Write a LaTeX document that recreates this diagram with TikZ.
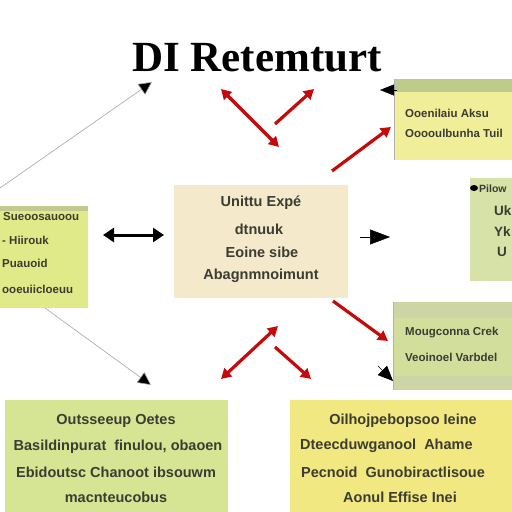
\documentclass[tikz,border=0pt]{standalone}
\usepackage{fontspec}
\setmainfont{Liberation Sans}
\newfontfamily\titlefont{Liberation Serif}
\usetikzlibrary{arrows.meta}
\definecolor{txtgray}{HTML}{3C3C32}
\definecolor{redarr}{HTML}{C40A0A}
\definecolor{yelbox}{HTML}{F1EE9A}
\definecolor{ygbox}{HTML}{E0EA88}
\definecolor{beigebox}{HTML}{F4E9CB}
\definecolor{greenbox}{HTML}{D6E2A8}
\definecolor{gbox}{HTML}{D2DE9C}
\definecolor{bottomgreen}{HTML}{D6E594}
\definecolor{bottomyel}{HTML}{F1E882}
\definecolor{strip}{HTML}{BFCB8C}
\tikzset{
  boxtext/.style={text=txtgray, font=\fontsize{13.5}{15}\selectfont\bfseries, inner sep=0pt},
  bigtext/.style={boxtext, font=\fontsize{14.5}{16}\selectfont\bfseries},
  smalltext/.style={boxtext, font=\fontsize{11.5}{13}\selectfont\bfseries},
  redline/.style={draw=redarr, line width=3.2pt, -{Triangle[length=10pt,width=11pt]}},
  reddouble/.style={draw=redarr, line width=3.2pt, {Triangle[length=10pt,width=11pt]}-{Triangle[length=10pt,width=11pt]}},
  grayline/.style={draw=gray!70, line width=0.6pt, -{Triangle[length=13pt,width=13pt,fill=black]}},
  blacktip/.style={draw=black, line width=0.5pt},
}
\begin{document}
\begin{tikzpicture}[x=1pt,y=-1pt]
\useasboundingbox[fill=white] (0,0) rectangle (512,512);

% title
\node[font=\titlefont\bfseries\fontsize{43}{45}\selectfont, inner sep=0pt] (title) at (257,58) {DI Retemturt};

% top-right box
\fill[yelbox] (394,79) rectangle (512,160);
\fill[strip] (394,79) rectangle (512,92);
\draw[gray!60, line width=0.8pt] (394,79) -- (394,160);
\node[smalltext, anchor=west] (tr1) at (405,113) {Ooenilaiu Aksu};
\node[smalltext, anchor=west] (tr2) at (405,133) {Ooooulbunha Tuil};

% left box
\fill[ygbox] (0,207) rectangle (88,308);
\fill[strip] (0,206) rectangle (88,211);
\node[smalltext, anchor=west] (l1) at (3,217) {Sueoosauoou};
\node[smalltext, anchor=west] (l2) at (2,240) {- Hiirouk};
\node[smalltext, anchor=west] (l3) at (2,263) {Puauoid};
\node[smalltext, anchor=west] (l4) at (2,289) {ooeuiicloeuu};

% center box
\fill[beigebox] (174,185) rectangle (348,298);
\node[bigtext] (c1) at (261,203) {Unittu Expé};
\node[bigtext] (c2) at (259,229) {dtnuuk};
\node[bigtext] (c3) at (262,252) {Eoine sibe};
\node[bigtext] (c4) at (261,276) {Abagnmnoimunt};

% right box
\fill[greenbox] (470,178) rectangle (512,281);
\fill[black] (474,188) ellipse (4 and 3);
\node[boxtext, font=\fontsize{10.5}{12}\selectfont\bfseries, anchor=west] (r1) at (479,189) {Pilow};
\node[boxtext, anchor=west] (r2) at (494,211) {Uk};
\node[boxtext, anchor=west] (r3) at (494,232) {Yk};
\node[boxtext, anchor=west] (r4) at (497,252) {U};

% right-lower box
\fill[gbox] (393,302) rectangle (512,390);
\fill[strip!80] (393,302) rectangle (512,318);
\fill[strip!80] (393,376) rectangle (512,390);
\draw[gray!60, line width=0.8pt] (393,302) -- (393,390);
\node[smalltext, anchor=west] (rl1) at (405,333) {Mougconna Crek};
\node[smalltext, anchor=west] (rl2) at (405,357) {Veoinoel Varbdel};

% bottom-left box
\fill[bottomgreen] (5,400) rectangle (228,512);
\node[bigtext] (bl1) at (116,421) {Outsseeup Oetes};
\node[bigtext] (bl2) at (118,447) {Basildinpurat \ finulou, obaoen};
\node[bigtext] (bl3) at (116,472) {Ebidoutsc Chanoot ibsouwm};
\node[bigtext] (bl4) at (116,497) {macnteucobus};

% bottom-right box
\fill[bottomyel] (290,400) rectangle (512,512);
\node[bigtext] (br1) at (403,421) {Oilhojpebopsoo Ieine};
\node[bigtext, anchor=west] (br2) at (300,446) {Dteecduwganool \ Ahame};
\node[bigtext, anchor=west] (br3) at (301,472) {Pecnoid \ Gunobiractlisoue};
\node[bigtext] (br4) at (400,497) {Aonul Effise Inei};

% coordinates for connectors
\coordinate (g1s) at (0,188);
\coordinate (g1e) at (152,82);
\coordinate (g2s) at (45,308);
\coordinate (g2e) at (151,385);
\coordinate (da) at (103,235);
\coordinate (db) at (164,235);
\coordinate (bt1s) at (360,237);
\coordinate (bt1e) at (390,237);
\coordinate (bt2s) at (397,90);
\coordinate (bt2e) at (380,90);
\coordinate (bt3s) at (378,366);
\coordinate (bt3e) at (393,381);

\coordinate (ra1) at (221,89);
\coordinate (ra2) at (279,147);
\coordinate (rb1) at (275,124);
\coordinate (rb2) at (314,89);
\coordinate (rc1) at (332,171);
\coordinate (rc2) at (391,127);
\coordinate (rd1) at (333,301);
\coordinate (rd2) at (388,341);
\coordinate (re1) at (221,379);
\coordinate (re2) at (278,326);
\coordinate (rf1) at (275,347);
\coordinate (rf2) at (311,379);

% gray arrows
\draw[grayline] (g1s) -- (g1e);
\draw[grayline] (g2s) -- (g2e);

% black arrows
\draw[draw=black, line width=3pt, {Triangle[length=11pt,width=14pt]}-{Triangle[length=11pt,width=14pt]}] (da) -- (db);
\draw[blacktip, -{Triangle[length=20pt,width=15pt]}] (bt1s) -- (bt1e);
\draw[blacktip, -{Triangle[length=14pt,width=11pt]}] (bt2s) -- (bt2e);
\draw[blacktip, -{Triangle[length=15pt,width=13pt]}] (bt3s) -- (bt3e);

% red arrows
\draw[reddouble] (ra1) -- (ra2);
\draw[redline] (rb1) -- (rb2);
\draw[redline] (rc1) -- (rc2);
\draw[redline] (rd1) -- (rd2);
\draw[reddouble] (re1) -- (re2);
\draw[redline] (rf1) -- (rf2);
\end{tikzpicture}
\end{document}
